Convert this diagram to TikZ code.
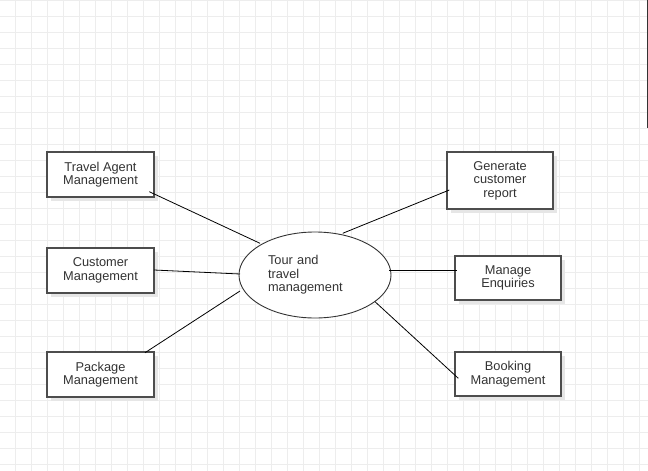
\documentclass[tikz,border=0pt]{standalone}
\usepackage{fontspec}
\setmainfont{Liberation Sans}
\usetikzlibrary{calc,shapes.geometric,shadows}
\definecolor{gridc}{HTML}{EDEDED}
\definecolor{txtc}{HTML}{333333}
\definecolor{boxc}{HTML}{4D4D4D}
\definecolor{shadc}{HTML}{E6E6E6}
\begin{document}
\begin{tikzpicture}[x=1pt,y=-1pt,
  every node/.style={font=\fontsize{12.8}{13.6}\selectfont, text=txtc},
  procbox/.style={draw=boxc, line width=1.3pt, fill=white, rectangle, inner sep=0pt,
    align=center, minimum width=107pt,
    drop shadow={shadow xshift=4pt, shadow yshift=-4pt, fill=shadc, opacity=1}},
  mainell/.style={draw=txtc, line width=0.9pt, fill=white, ellipse, inner sep=0pt,
    minimum width=152pt, minimum height=86pt, text width=94pt, align=left},
  link/.style={draw=black, line width=0.8pt}]
\useasboundingbox (0,0) rectangle (648,471);
\fill[white] (0,0) rectangle (648,471);
% grid
\foreach \i in {0,...,39} \draw[gridc, line width=0.9pt] (15.3+16*\i,0) -- (15.3+16*\i,471);
\foreach \j in {0,...,29} \draw[gridc, line width=0.9pt] (0,16*\j) -- (648,16*\j);
\fill[txtc] (646.5,0) rectangle (648,128);
% nodes
\node[procbox, minimum height=45pt] (ta) at (100.5,174.5) {Travel Agent\\Management};
\node[procbox, minimum height=45pt] (cm) at (100.5,270.5) {Customer\\Management};
\node[procbox, minimum height=45pt] (pm) at (100.5,374.5) {Package\\Management};
\node[procbox, minimum width=106pt, minimum height=57pt] (gr) at (500,180.5) {Generate\\customer\\report};
\node[procbox, minimum width=106pt, minimum height=44pt] (me) at (508,278) {Manage\\Enquiries};
\node[procbox, minimum width=106pt, minimum height=44pt] (bm) at (508,374) {Booking\\Management};
\node[mainell] (tt) at (315,275) {Tour and\\travel\\management};
% connectors
\draw[link] ($(ta.center)+(48.8,17.2)$) -- ($(tt.center)+(-55,-31.7)$);
\draw[link] ($(cm.center)+(53.5,-0.5)$) -- ($(tt.center)+(-75,-1)$);
\draw[link] ($(pm.center)+(44.5,-21.8)$) -- ($(tt.center)+(-75,16)$);
\draw[link] ($(tt.center)+(27.7,-41.7)$) -- ($(gr.center)+(-50.7,9.5)$);
\draw[link] ($(tt.center)+(74.3,-5)$) -- ($(me.center)+(-51.3,-8)$);
\draw[link] ($(tt.center)+(60,26.7)$) -- ($(bm.center)+(-49.7,4.3)$);
\end{tikzpicture}
\end{document}
